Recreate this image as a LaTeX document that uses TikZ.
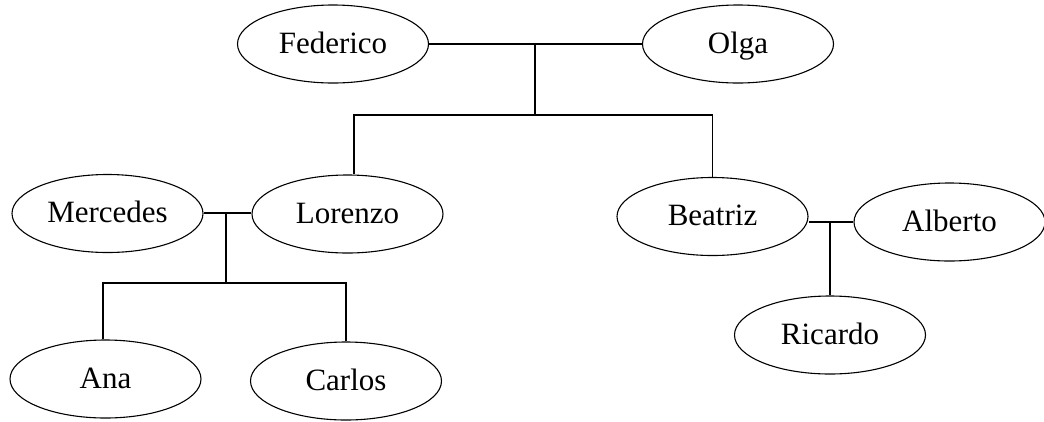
\documentclass[tikz,border=0pt]{standalone}
\usepackage{fontspec}
\setmainfont{Liberation Serif}
\usetikzlibrary{shapes.geometric}
\tikzset{
  person/.style={draw, line width=1.1pt, ellipse, minimum width=191pt, minimum height=78pt,
    inner sep=0pt, text height=24pt, text depth=6pt,
    font=\fontsize{31}{37}\selectfont},
  link/.style={draw, line width=1.2pt}
}
\begin{document}
\begin{tikzpicture}[x=1pt,y=-1pt]
\useasboundingbox (0,0) rectangle (1044,421);
\node[person] (F) at (333,44) {Federico};
\node[person] (O) at (738,44) {Olga};
\node[person] (M) at (107.5,213.5) {Mercedes};
\node[person] (L) at (347.5,214) {Lorenzo};
\node[person] (B) at (712.5,216.5) {Beatriz};
\node[person] (A) at (949.5,222) {Alberto};
\node[person] (R) at (830,335) {Ricardo};
\node[person] (An) at (105.5,379) {Ana};
\node[person] (C) at (346,381) {Carlos};
% Federico - Olga
\draw[link] (F.east) -- (O.west);
\coordinate (fo) at (535,44);
\coordinate (fok) at (535,115);
\draw[link] (fo) -- (fok);
\draw[link] ([xshift=6.5pt]L.north) |- (fok) -| (B.north);
% Mercedes - Lorenzo
\draw[link] (M.east |- 0,213) -- (L.west |- 0,213);
\coordinate (ml) at (226,213);
\coordinate (mlk) at (226,283);
\draw[link] (ml) -- (mlk);
\draw[link] ([xshift=-2.5pt]An.north) |- (mlk) -| (C.north);
% Beatriz - Alberto
\coordinate (ba) at (830,222);
\draw[link] (A.west) -- (A.west -| B.east);
\draw[link] (ba) -- (R.north);
\end{tikzpicture}
\end{document}
